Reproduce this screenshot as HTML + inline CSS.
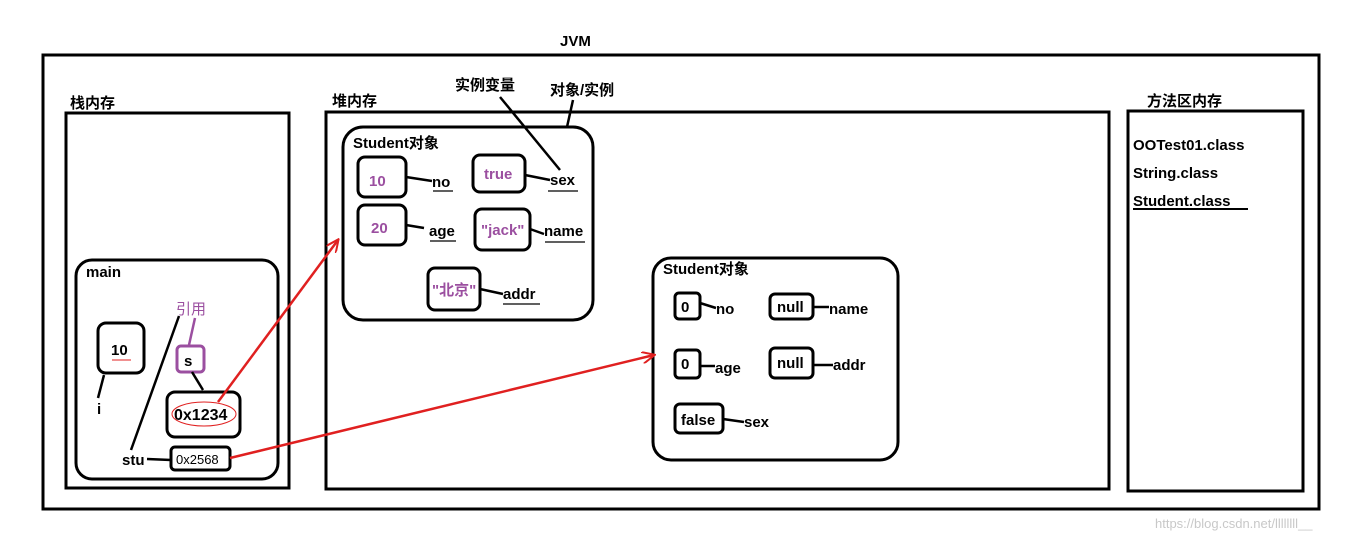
<!DOCTYPE html>
<html><head><meta charset="utf-8"><style>
html,body{margin:0;padding:0;background:#fff;width:1358px;height:541px;overflow:hidden}
svg text{font-family:"Liberation Sans","Noto Sans CJK SC",sans-serif;font-weight:bold;font-size:15px;fill:#000}
.p{fill:#9b4fa0}
</style></head><body>
<svg width="1358" height="541" viewBox="0 0 1358 541" xmlns="http://www.w3.org/2000/svg">
<defs><marker id="ah" markerWidth="14" markerHeight="12" refX="12" refY="6" orient="auto" markerUnits="userSpaceOnUse"><path d="M0,0 L13,6 L0,12" fill="none" stroke="#e02020" stroke-width="2"/></marker></defs>
<g fill="none" stroke="#000" stroke-width="3">
<rect x="43" y="55" width="1276" height="454"/>
<rect x="66" y="113" width="223" height="375"/>
<rect x="326" y="112" width="783" height="377"/>
<rect x="1128" y="111" width="175" height="380"/>
<rect x="76" y="260" width="202" height="219" rx="16"/>
<rect x="98" y="323" width="46" height="50" rx="8"/>
<rect x="167" y="392" width="73" height="45" rx="8"/>
<rect x="171" y="447" width="59" height="23" rx="4"/>
<rect x="343" y="127" width="250" height="193" rx="20"/>
<rect x="358" y="157" width="48" height="40" rx="7"/>
<rect x="473" y="155" width="52" height="37" rx="7"/>
<rect x="358" y="205" width="48" height="40" rx="7"/>
<rect x="475" y="209" width="55" height="41" rx="7"/>
<rect x="428" y="268" width="52" height="42" rx="7"/>
<rect x="653" y="258" width="245" height="202" rx="18"/>
<rect x="675" y="293" width="25" height="26" rx="4"/>
<rect x="770" y="294" width="43" height="25" rx="5"/>
<rect x="675" y="350" width="25" height="28" rx="4"/>
<rect x="770" y="348" width="43" height="30" rx="5"/>
<rect x="675" y="404" width="48" height="29" rx="5"/>
</g>
<rect x="177" y="346" width="27" height="26" rx="4" fill="none" stroke="#9b4fa0" stroke-width="3"/>
<ellipse cx="204" cy="414" rx="32" ry="12" fill="none" stroke="#e02020" stroke-width="1"/>
<g stroke="#000" stroke-width="2.5" fill="none">
<line x1="104" y1="375" x2="98" y2="398"/>
<line x1="179" y1="316" x2="131" y2="450"/>
<line x1="192" y1="372" x2="203" y2="390"/>
<line x1="147" y1="459" x2="171" y2="460"/>
<line x1="406" y1="177" x2="432" y2="181"/>
<line x1="525" y1="175" x2="550" y2="180"/>
<line x1="406" y1="225" x2="424" y2="228"/>
<line x1="530" y1="229" x2="544" y2="234"/>
<line x1="480" y1="289" x2="503" y2="294"/>
<line x1="500" y1="97" x2="560" y2="170"/>
<line x1="573" y1="100" x2="567" y2="127"/>
<line x1="700" y1="303" x2="716" y2="308"/>
<line x1="813" y1="307" x2="829" y2="307"/>
<line x1="700" y1="366" x2="715" y2="366"/>
<line x1="813" y1="365" x2="833" y2="365"/>
<line x1="723" y1="419" x2="744" y2="422"/>
</g>
<line x1="195" y1="318" x2="189" y2="345" stroke="#9b4fa0" stroke-width="2.5"/>
<g stroke="#000" stroke-width="1.2">
<line x1="433" y1="191" x2="453" y2="191"/>
<line x1="548" y1="191" x2="578" y2="191"/>
<line x1="430" y1="241" x2="456" y2="241"/>
<line x1="545" y1="242" x2="585" y2="242"/>
<line x1="503" y1="304" x2="540" y2="304"/>
</g>
<line x1="112" y1="360" x2="131" y2="360" stroke="#e02020" stroke-width="1"/>
<g stroke="#e02020" stroke-width="2.5" fill="none">
<line x1="218" y1="402" x2="338" y2="240" marker-end="url(#ah)"/>
<line x1="230" y1="458" x2="654" y2="355" marker-end="url(#ah)"/>
</g>
<text x="560" y="46">JVM</text>
<text x="70" y="108">栈内存</text>
<text x="332" y="106">堆内存</text>
<text x="1147" y="106">方法区内存</text>
<text x="455" y="90">实例变量</text>
<text x="550" y="95">对象/实例</text>
<text x="86" y="277">main</text>
<text x="111" y="355">10</text>
<text x="97" y="414">i</text>
<text x="176" y="314" class="p" style="font-weight:normal">引用</text>
<text x="184" y="366">s</text>
<text x="174" y="420" style="font-size:16px">0x1234</text>
<text x="122" y="465">stu</text>
<text x="176" y="464" style="font-weight:normal;font-size:13px">0x2568</text>
<text x="353" y="148">Student对象</text>
<text x="369" y="186" class="p">10</text>
<text x="432" y="187">no</text>
<text x="484" y="179" class="p">true</text>
<text x="550" y="185">sex</text>
<text x="371" y="233" class="p">20</text>
<text x="429" y="236">age</text>
<text x="481" y="235" class="p">"jack"</text>
<text x="544" y="236">name</text>
<text x="432" y="295" class="p">"北京"</text>
<text x="503" y="299">addr</text>
<text x="663" y="274">Student对象</text>
<text x="681" y="312">0</text>
<text x="716" y="314">no</text>
<text x="777" y="312">null</text>
<text x="829" y="314">name</text>
<text x="681" y="369">0</text>
<text x="715" y="373">age</text>
<text x="777" y="368">null</text>
<text x="833" y="370">addr</text>
<text x="681" y="425">false</text>
<text x="744" y="427">sex</text>
<text x="1133" y="150">OOTest01.class</text>
<text x="1133" y="178">String.class</text>
<text x="1133" y="206">Student.class</text>
<line x1="1133" y1="209" x2="1248" y2="209" stroke="#000" stroke-width="2"/>
<text x="1155" y="528" style="font-weight:normal;font-size:13px;fill:#c8c8c8">https://blog.csdn.net/llllllll__</text>
</svg>
</body></html>
